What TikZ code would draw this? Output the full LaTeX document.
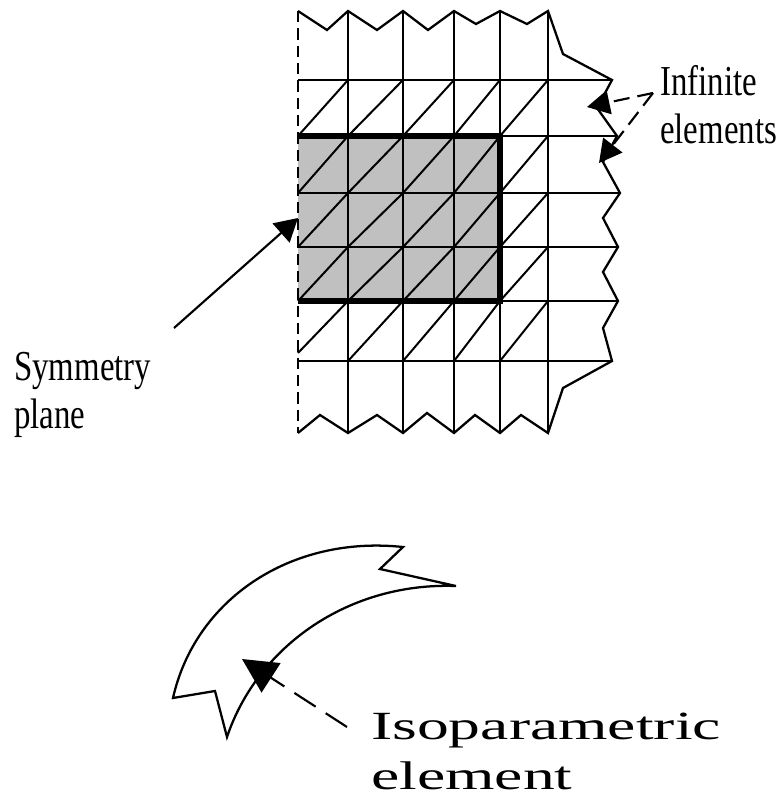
\documentclass[tikz,border=0pt]{standalone}
\usepackage{xcolor}
\usepackage{fontspec}
\newfontfamily\narrowserif[FakeStretch=0.77]{Liberation Serif}
\newfontfamily\wideserif[FakeStretch=1.59]{Liberation Serif}
\definecolor{ink}{HTML}{000000}
\definecolor{cShade}{HTML}{C0C0C0}
\usetikzlibrary{arrows.meta}
\tikzset{x=0.75pt,y=-0.75pt,
  mesh/.style={draw=ink,line width=1.7pt,line join=miter},
  thin mesh/.style={draw=ink,line width=1.5pt},
  heavy/.style={draw=ink,line width=3.8pt},
  plane/.style={draw=ink,line width=1.3pt,dash pattern=on 8.5pt off 4.5pt},
  solidarrow/.style={-{Triangle[length=17pt,width=19pt]},draw=ink,line width=1.6pt},
  dasharrow/.style={-{Triangle[length=17pt,width=18pt]},draw=ink,line width=1.6pt,dash pattern=on 12pt off 6pt},
  bigdasharrow/.style={dasharrow,-{Triangle[length=26pt,width=26pt]},dash pattern=on 19pt off 9pt},
  lbl/.style={anchor=north west,inner sep=0pt,align=left,text=ink,font=\narrowserif\fontsize{32}{36}\selectfont},
  widelbl/.style={lbl,font=\wideserif\fontsize{30}{37}\selectfont}}
\begin{document}
\begin{tikzpicture}
  \useasboundingbox (0,0) rectangle (780,797);
  % shaded block
  \fill[cShade] (298,136) rectangle (500,301);
  % rows with diagonals
  \foreach \ya/\yb in {80/136,136/193,193/247,247/301}
    \foreach \xa/\xb in {298/348,348/403,403/454,454/500,500/548}
      \draw[thin mesh] (\xa,\yb) -- (\xb,\ya);
  \draw[thin mesh] (298,353) -- (348,301);
  \foreach \xa/\xb in {348/403,403/454,454/500,500/548}
    \draw[thin mesh] (\xa,361) -- (\xb,301);
  % vertical lines
  \foreach \x in {348,403,454,500,548}
    \draw[thin mesh] (\x,11) -- (\x,433);
  % horizontal lines
  \draw[mesh] (298,80) -- (612,80);
  \draw[thin mesh] (500,136) -- (617,136);
  \draw[mesh] (298,193) -- (620,193);
  \draw[mesh] (298,247) -- (618,247);
  \draw[thin mesh] (500,301) -- (618,301);
  \draw[thin mesh] (298,361) -- (612,361);
  % outer border
  \draw[mesh] (298,11) -- (327,30) -- (348,11) -- (377,30) -- (403,11) -- (428,30) -- (454,11)
    -- (476,24) -- (500,11) -- (527,24) -- (548,11) -- (563,54) -- (612,80) -- (597,108)
    -- (617,136) -- (603,162) -- (620,193) -- (603,218) -- (618,247) -- (603,272) -- (618,301)
    -- (603,328) -- (612,361) -- (563,388) -- (548,433) -- (521,415) -- (500,433) -- (475,415)
    -- (454,433) -- (427,413) -- (403,433) -- (377,415) -- (348,433) -- (320,415) -- (298,433);
  \draw[plane] (298,11) -- (298,433);
  % bold outline of the block
  \draw[heavy] (298,136) -- (500,136) -- (500,301) -- (298,301);
  % curved element
  \draw[mesh] (173,698) .. controls (195,600) and (290,535) .. (403,547)
    -- (380,569) -- (456,586) .. controls (350,582) and (258,645) .. (227,737)
    -- (215,691) -- cycle;
  % labels
  \node[lbl] (infinite) at (660,65) {Infinite\\elements};
  \node[lbl] (symmetry) at (14,352) {Symmetry\\plane};
  \node[widelbl] (iso) at (371,713) {Isoparametric\\element};
  % arrows
  \coordinate (apex) at (653,93);
  \coordinate (symfoot) at (174,328);
  \coordinate (symtip) at (298,218);
  \coordinate (inftipa) at (587,107);
  \coordinate (inftipb) at (599,163);
  \coordinate (isofoot) at (347,727);
  \coordinate (isotip) at (242,659);
  \draw[solidarrow] (symfoot) -- (symtip);
  \draw[dasharrow] (apex) -- (inftipa);
  \draw[dasharrow] (apex) -- (inftipb);
  \draw[bigdasharrow] (isofoot) -- (isotip);
\end{tikzpicture}
\end{document}
